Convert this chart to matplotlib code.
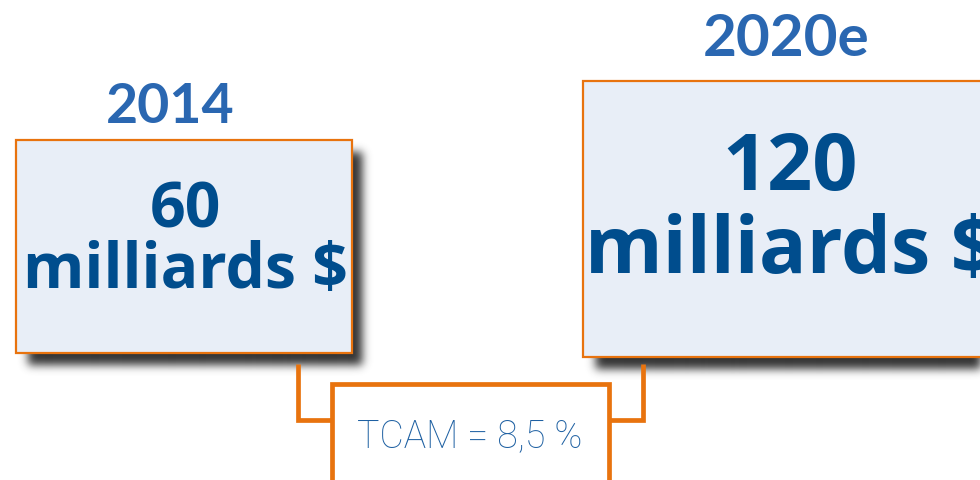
import numpy as np
import matplotlib
matplotlib.use("Agg")
import matplotlib.pyplot as plt
from matplotlib.patches import Rectangle

# ---- data ----
years = ["2014", "2020e"]
values = [60, 120]
unit = "milliards $"
cagr_label = "TCAM"
cagr_value = "8,5 %"

# ---- style ----
ORANGE = "#E8730E"
FILL = "#E8EEF7"
YEAR_COLOR = "#2A67B1"
VALUE_COLOR = "#004D8D"
TCAM_COLOR = "#1E60A2"

W, H = 980, 480
fig = plt.figure(figsize=(W / 100, H / 100), dpi=100)
ax = fig.add_axes([0, 0, 1, 1])
ax.set_xlim(0, W)
ax.set_ylim(H, 0)
ax.axis("off")

# layout (pixels): box left, top, right, bottom
boxes = [(16, 140, 352, 353), (583, 81, 1000, 357)]
year_base = [123, 56]
year_cx = [170, 786]
unit_base = [288, 273]
text_cx = [185, 790]
val_size = [45, 57]
line_sp = [0.94, 1.07]
year_size = [40, 42]


def blur(a, s):
    r = int(3 * s)
    k = np.exp(-0.5 * (np.arange(-r, r + 1) / s) ** 2)
    k /= k.sum()
    a = np.apply_along_axis(lambda m: np.convolve(m, k, mode="same"), 0, a)
    a = np.apply_along_axis(lambda m: np.convolve(m, k, mode="same"), 1, a)
    return a


# shadows
mask = np.zeros((H, W))
for (l, t, r, b) in boxes:
    mask[t + 12:min(b + 12, H), l + 12:min(r + 10, W)] = 1.0
mask = blur(mask, 4.5)
shadow = np.zeros((H, W, 4))
shadow[..., :3] = 0.2
shadow[..., 3] = np.clip(mask * 1.0, 0, 1)
ax.imshow(shadow, extent=(0, W, H, 0), zorder=1, interpolation="bilinear")

for i, (l, t, r, b) in enumerate(boxes):
    ax.add_patch(Rectangle((l, t), r - l, b - t, facecolor=FILL,
                           edgecolor=ORANGE, linewidth=1.6, zorder=2))
    ax.text(year_cx[i], year_base[i], years[i],
            ha="center", va="baseline", fontsize=year_size[i],
            fontfamily="Lato", fontweight="bold", color=YEAR_COLOR, zorder=3)
    ax.text(text_cx[i], unit_base[i], f"{values[i]}\n{unit}", ha="center",
            va="baseline", multialignment="center", linespacing=line_sp[i],
            fontsize=val_size[i], fontfamily="Open Sans", fontweight="bold",
            color=VALUE_COLOR, zorder=3)

# connector
lw = 3.4
ax.plot([298, 298, 332], [364, 420, 420], color=ORANGE, lw=lw,
        solid_capstyle="butt", solid_joinstyle="miter", zorder=2)
ax.plot([643, 643, 609], [364, 420, 420], color=ORANGE, lw=lw,
        solid_capstyle="butt", solid_joinstyle="miter", zorder=2)
ax.add_patch(Rectangle((332, 384), 609 - 332, 120, facecolor="white",
                       edgecolor=ORANGE, linewidth=lw, zorder=3))
ax.text(470, 447, f"{cagr_label} = {cagr_value}", ha="center", va="baseline",
        fontsize=27, fontfamily="Roboto", fontweight="light",
        color=TCAM_COLOR, zorder=4)

fig.savefig("out.png", dpi=100)
